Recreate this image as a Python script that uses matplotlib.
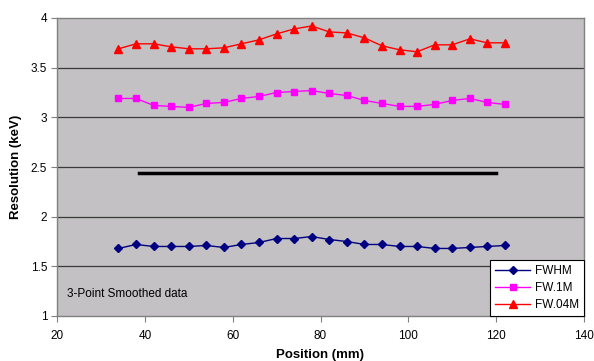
import matplotlib
matplotlib.use("Agg")
import matplotlib.pyplot as plt
import numpy as np

plt.rcParams['font.family'] = ['Liberation Sans', 'DejaVu Sans']

# ---------------------------
# Data
# ---------------------------
position = np.arange(34, 123, 4)  # 34 .. 122 mm

fwhm = [1.68, 1.72, 1.70, 1.70, 1.70, 1.71, 1.69, 1.72, 1.74, 1.78, 1.78, 1.80,
        1.77, 1.75, 1.72, 1.72, 1.70, 1.70, 1.68, 1.68, 1.69, 1.70, 1.71]
fw1m = [3.19, 3.19, 3.12, 3.11, 3.10, 3.14, 3.15, 3.19, 3.21, 3.25, 3.26, 3.27,
        3.24, 3.22, 3.17, 3.14, 3.11, 3.11, 3.13, 3.17, 3.19, 3.15, 3.13]
fw04m = [3.69, 3.74, 3.74, 3.71, 3.69, 3.69, 3.70, 3.74, 3.78, 3.84, 3.89, 3.92,
         3.86, 3.85, 3.80, 3.72, 3.68, 3.66, 3.73, 3.73, 3.79, 3.75, 3.75]

ref_x = [38.6, 120]
ref_y = [2.44, 2.44]

# ---------------------------
# Plot
# ---------------------------
fig = plt.figure(figsize=(5.94, 3.61), dpi=100)
ax = fig.add_axes([57/594, 1 - 316/361, (584-57)/594, (316-18)/361])
ax.set_facecolor("#C3C1C3")

for y in [1.5, 2, 2.5, 3, 3.5]:
    ax.axhline(y, color="#3a3a3a", lw=0.9, zorder=1)

ax.plot(position, fwhm, color="#000080", marker="D", ms=4, lw=1, label="FWHM", zorder=3)
ax.plot(position, fw1m, color="#FF00FF", marker="s", ms=4.5, lw=1, label="FW.1M", zorder=3)
ax.plot(position, fw04m, color="#FF0000", marker="^", ms=5.5, lw=1, label="FW.04M", zorder=3)
ax.plot(ref_x, ref_y, color="black", lw=2.5, zorder=3)

ax.set_xlim(20, 140)
ax.set_ylim(1, 4)
ax.set_xticks(np.arange(20, 141, 20))
ax.set_yticks([1, 1.5, 2, 2.5, 3, 3.5, 4])
ax.set_yticklabels(["1", "1.5", "2", "2.5", "3", "3.5", "4"])
ax.tick_params(direction="out", length=4, width=0.8, color="#808080", labelsize=8.5, pad=3)
ax.tick_params(axis="x", pad=6)
for s in ax.spines.values():
    s.set_color("#808080")
    s.set_linewidth(1)

ax.set_xlabel("Position (mm)", fontsize=9.5, fontweight="bold", labelpad=5)
ax.set_ylabel("Resolution (keV)", fontsize=9.5, fontweight="bold", labelpad=6)

ax.text(22.3, 1.22, "3-Point Smoothed data", fontsize=8.5, va="center", ha="left")

leg = ax.legend(loc="lower right", fontsize=8.5, frameon=True, fancybox=False,
                borderaxespad=0, handlelength=3, labelspacing=0.45, borderpad=0.4,
                handletextpad=0.4)
leg.get_frame().set_edgecolor("black")
leg.get_frame().set_linewidth(0.8)
leg.get_frame().set_facecolor("white")
leg.get_frame().set_alpha(1)

plt.savefig("out.png", dpi=100)
plt.close()
